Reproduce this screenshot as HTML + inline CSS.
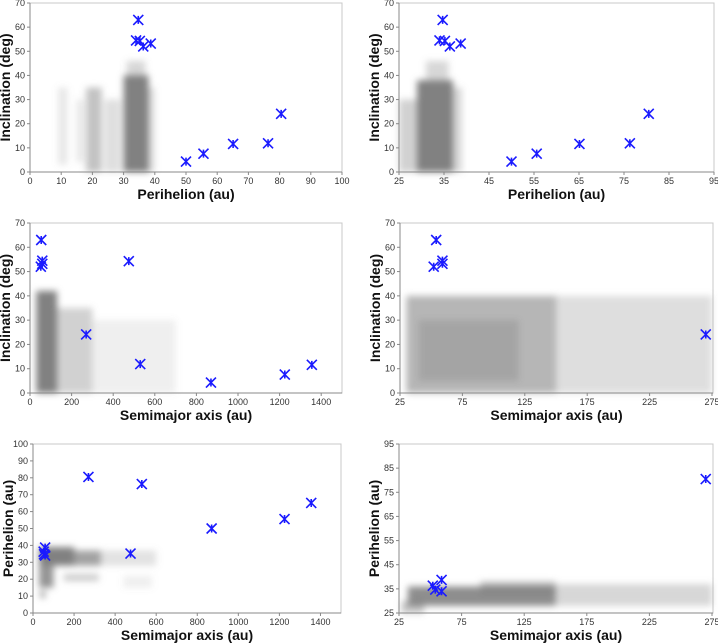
<!DOCTYPE html>
<html><head><meta charset="utf-8"><style>
body{margin:0;background:#fff;width:718px;height:644px;overflow:hidden}
svg{display:block;font-family:"Liberation Sans",sans-serif}
.tk{font-size:9px;fill:#333}
.tt{font-size:14px;font-weight:bold;fill:#111}
</style></head><body>
<svg id="c" width="718" height="644"></svg>
<script>
// Highlighted objects (blue X markers)
const objPerihelion = [34.7, 34.0, 35.2, 36.3, 38.7, 50.0, 55.6, 65.1, 76.3, 80.5];
const objInclination = [63.0, 54.5, 54.3, 52.0, 53.2, 4.3, 7.6, 11.6, 11.9, 24.1];
const objSemimajor = [54, 59, 475, 52, 59, 870, 1225, 1355, 530, 270];
// Background population density regions: [xmin, xmax, ymin, ymax, density]
const cloudQI = [[30,38,0,40,0.95],[31,37,40,46,0.3],[18,23,0,35,0.45],[15,17,4,30,0.2],[9,12,3,35,0.18],[24,29,0,30,0.25],[38,40,0,35,0.25]];
const cloudQIzoom = [[29,37,0,38,0.95],[25,29,0,30,0.35],[37,39,0,35,0.3],[31,36,38,46,0.3]];
const cloudAI = [[30,130,0,42,0.95],[130,300,0,35,0.35],[300,700,0,30,0.12]];
const cloudAIzoom = [[30,150,0,40,0.55],[40,120,5,30,0.3],[150,275,0,40,0.25]];
const cloudAQ = [[30,200,28,39,0.95],[200,330,28,37,0.7],[30,100,15,28,0.8],[35,60,9,13,0.7],[150,320,19,23,0.4],[330,600,28,37,0.22],[440,580,15,22,0.12]];
const cloudAQzoom = [[32,150,28,36,0.85],[90,150,33,38,0.5],[150,275,28,37,0.3],[27,45,25,30,0.45]];
const xTicksQ1 = [0,10,20,30,40,50,60,70,80,90,100];
const xTicksQ2 = [25,35,45,55,65,75,85,95];
const xTicksA1 = [0,200,400,600,800,1000,1200,1400];
const xTicksA2 = [25,75,125,175,225,275];
const yTicksI = [0,10,20,30,40,50,60,70];
const yTicksQ1 = [0,10,20,30,40,50,60,70,80,90,100];
const yTicksQ2 = [25,35,45,55,65,75,85,95];

const NS="http://www.w3.org/2000/svg";
const svg=document.getElementById('c');
const defs=document.createElementNS(NS,'defs');
defs.innerHTML='<filter id="bl" x="-50%" y="-50%" width="200%" height="200%"><feGaussianBlur stdDeviation="3.5"/></filter>';
svg.appendChild(defs);
function mk(tag,attrs,parent){const e=document.createElementNS(NS,tag);for(const k in attrs)e.setAttribute(k,attrs[k]);(parent||svg).appendChild(e);return e;}

function panel(cfg){
  const g=mk('g',{});
  
  
  const sx=v=>cfg.x0+(v-cfg.xd[0])/(cfg.xd[1]-cfg.xd[0])*(cfg.x1-cfg.x0);
  const sy=v=>cfg.y1-(v-cfg.yd[0])/(cfg.yd[1]-cfg.yd[0])*(cfg.y1-cfg.y0);
  const frame=mk('rect',{x:cfg.x0,y:cfg.y0,width:cfg.xr-cfg.x0,height:cfg.y1-cfg.y0,fill:'#fff',stroke:'#c8c8c8','stroke-width':1},g);
  
  
  const cg=mk('g',{filter:'url(#bl)'},g);
  
  
  cfg.cloud.forEach(c=>{
    const r=mk('rect',{x:sx(c[0]),y:sy(c[3]),width:Math.max(2,sx(c[1])-sx(c[0])),height:sy(c[2])-sy(c[3]),fill:'#7a7a7a','fill-opacity':c[4]},cg);
    
    
  });
  mk('line',{x1:cfg.x0,y1:cfg.y1,x2:cfg.xr,y2:cfg.y1,stroke:'#888'},g);
  mk('line',{x1:cfg.x0,y1:cfg.y0,x2:cfg.x0,y2:cfg.y1,stroke:'#888'},g);
  cfg.xt.forEach(t=>{
    const x=sx(t);
    mk('line',{x1:x,y1:cfg.y1,x2:x,y2:cfg.y1+3,stroke:'#888'},g);
    const tx=mk('text',{x:x,y:cfg.y1+12,'text-anchor':'middle',class:'tk'},g);
    tx.textContent=t;
    
    
  });
  cfg.yt.forEach(t=>{
    const y=sy(t);
    mk('line',{x1:cfg.x0-3,y1:y,x2:cfg.x0,y2:y,stroke:'#888'},g);
    const tx=mk('text',{x:cfg.x0-5,y:y+3,'text-anchor':'end',class:'tk'},g);
    tx.textContent=t;
    
    
  });
  const xt=mk('text',{x:(cfg.x0+cfg.xr)/2,y:cfg.y1+27,'text-anchor':'middle',class:'tt'},g);
  xt.textContent=cfg.xlabel;
  
  
  const yx=cfg.x0-20, yy=(cfg.y0+cfg.y1)/2;
  const yt=mk('text',{x:yx,y:yy,'text-anchor':'middle',class:'tt',transform:`rotate(-90 ${yx} ${yy})`},g);
  yt.textContent=cfg.ylabel;
  
  
  cfg.xs.forEach((xv,i)=>{
    const yv=cfg.ys[i];
    if(xv<cfg.xd[0]||xv>cfg.xd[1]||yv<cfg.yd[0]||yv>cfg.yd[1])return;
    const px=sx(xv),py=sy(yv),s=5;
    const m=mk('path',{d:`M${px-s} ${py-s}L${px+s} ${py+s}M${px-s} ${py+s}L${px+s} ${py-s}M${px} ${py-s+1}L${px} ${py+s-1}`,stroke:'#1a1aff','stroke-width':1.6,fill:'none'},g);
    
    
  });
}
panel({name:'perihelion-vs-inclination',x0:30,x1:342,xr:342,y0:3,y1:172,xd:[0,100],yd:[0,70],xt:xTicksQ1,yt:yTicksI,cloud:cloudQI,xs:objPerihelion,ys:objInclination,xlabel:'Perihelion (au)',ylabel:'Inclination (deg)'});
panel({name:'perihelion-vs-inclination-zoom',x0:399,x1:714,xr:714,y0:3,y1:172,xd:[25,95],yd:[0,70],xt:xTicksQ2,yt:yTicksI,cloud:cloudQIzoom,xs:objPerihelion,ys:objInclination,xlabel:'Perihelion (au)',ylabel:'Inclination (deg)'});
panel({name:'semimajor-vs-inclination',x0:30,x1:342,xr:342,y0:223,y1:393,xd:[0,1500],yd:[0,70],xt:xTicksA1,yt:yTicksI,cloud:cloudAI,xs:objSemimajor,ys:objInclination,xlabel:'Semimajor axis (au)',ylabel:'Inclination (deg)'});
panel({name:'semimajor-vs-inclination-zoom',x0:400,x1:712,xr:713,y0:223,y1:393,xd:[25,275],yd:[0,70],xt:xTicksA2,yt:yTicksI,cloud:cloudAIzoom,xs:objSemimajor,ys:objInclination,xlabel:'Semimajor axis (au)',ylabel:'Inclination (deg)'});
panel({name:'semimajor-vs-perihelion',x0:33,x1:341,xr:341,y0:444,y1:613,xd:[0,1500],yd:[0,100],xt:xTicksA1,yt:yTicksQ1,cloud:cloudAQ,xs:objSemimajor,ys:objPerihelion,xlabel:'Semimajor axis (au)',ylabel:'Perihelion (au)'});
panel({name:'semimajor-vs-perihelion-zoom',x0:399,x1:712,xr:713,y0:444,y1:613,xd:[25,275],yd:[25,95],xt:xTicksA2,yt:yTicksQ2,cloud:cloudAQzoom,xs:objSemimajor,ys:objPerihelion,xlabel:'Semimajor axis (au)',ylabel:'Perihelion (au)'});
</script>
</body></html>
